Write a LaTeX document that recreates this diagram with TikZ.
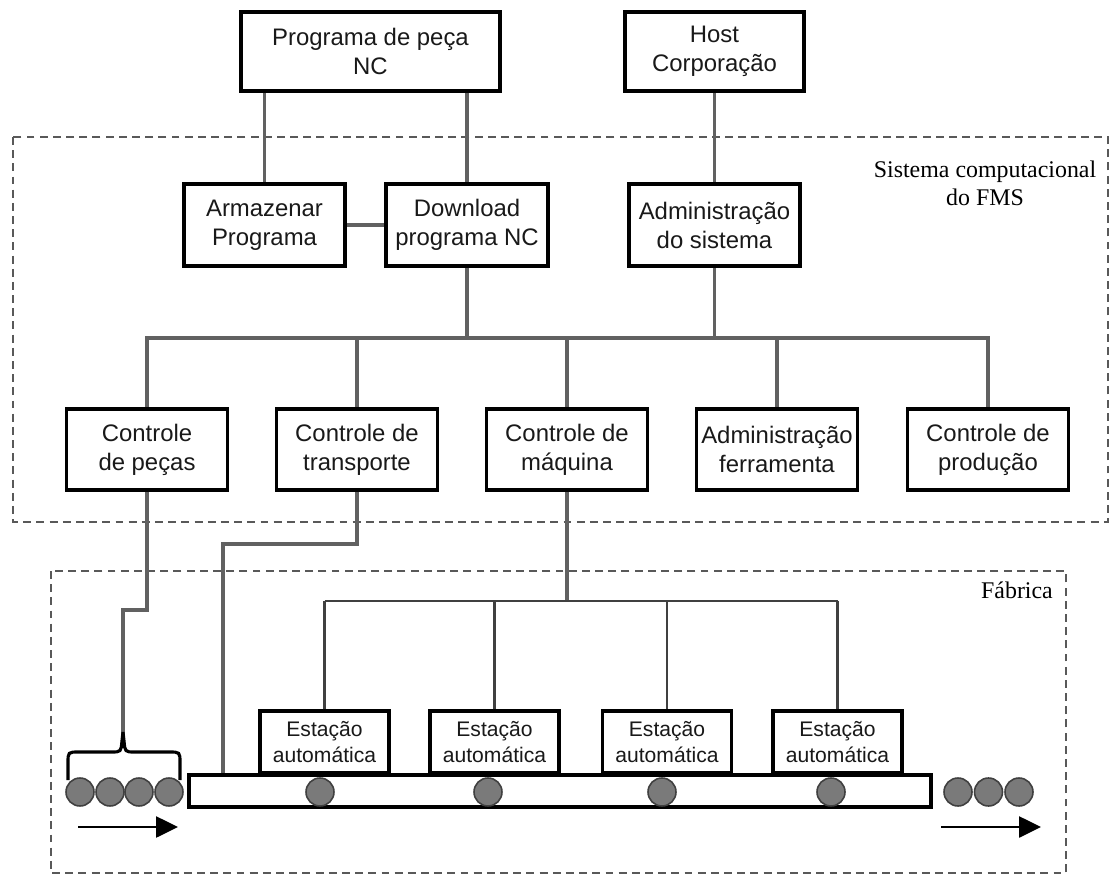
\documentclass[tikz,border=0pt]{standalone}
\usepackage{fontspec}
\setmainfont{Liberation Serif}
\setsansfont{Liberation Sans}
\usetikzlibrary{arrows.meta}

\begin{document}
\begin{tikzpicture}[x=0.02cm,y=-0.02cm,
  fmsbox/.style={draw=black,line width=2.2pt,fill=white,inner sep=0pt,align=center,
    font=\sffamily\fontsize{13.6}{16.5}\selectfont,text=black!90},
  ctrlbox/.style={fmsbox,minimum width=3.22cm,minimum height=1.62cm},
  stationbox/.style={fmsbox,line width=2pt,minimum width=2.58cm,minimum height=1.24cm,
    font=\sffamily\fontsize{12}{15}\selectfont},
  link/.style={draw=black!62,line width=1.8pt},
  floorlink/.style={draw=black!75,line width=1.3pt},
  zone/.style={draw=black!65,line width=1pt,dash pattern=on 4.5pt off 3pt},
  zonelabel/.style={font=\fontsize{13.6}{16}\selectfont,align=center,inner sep=0pt},
  part/.style={circle,draw=black!75,fill=black!52,line width=0.9pt,minimum size=0.56cm,inner sep=0pt},
  bracepen/.style={draw=black,line width=1.8pt},
  flow/.style={line width=1.5pt,-{Triangle[length=0.44cm,width=0.42cm]}}]
  \useasboundingbox (0,0) rectangle (1109,875);
  % zones
  \draw[zone] (13,137) rectangle (1108,522);
  \draw[zone] (51,571) rectangle (1066,873);
  \node[zonelabel] (lblsys) at (985,183) {Sistema computacional\\do FMS};
  \node[zonelabel] (lblfab) at (1017,590) {Fábrica};
  % top level
  \node[fmsbox,minimum width=5.18cm,minimum height=1.58cm] (prog) at (370.5,51.5) {Programa de peça\\NC};
  \node[fmsbox,minimum width=3.58cm,minimum height=1.58cm] (host) at (714.5,51.5) {Host\\Corporação};
  \node[fmsbox,minimum width=3.22cm,minimum height=1.64cm] (armaz) at (264.5,225) {Armazenar\\Programa};
  \node[fmsbox,minimum width=3.24cm,minimum height=1.64cm] (down) at (467,225) {Download\\programa NC};
  \node[fmsbox,minimum width=3.42cm,minimum height=1.64cm] (admsis) at (714.5,225) {Administração\\do sistema};
  % control level
  \node[ctrlbox] (cpecas) at (147,449.5) {Controle\\de peças};
  \node[ctrlbox] (ctrans) at (357,449.5) {Controle de\\transporte};
  \node[ctrlbox] (cmaq) at (567,449.5) {Controle de\\máquina};
  \node[ctrlbox] (cferr) at (777,449.5) {Administração\\ferramenta};
  \node[ctrlbox] (cprod) at (988,449.5) {Controle de\\produção};
  % factory floor
  \node[draw=black,line width=1.8pt,fill=white,minimum width=14.84cm,minimum height=0.64cm,inner sep=0pt] (conv) at (560,791) {};
  \node[stationbox] (st1) at (324.5,742) {Estação\\automática};
  \node[stationbox] (st2) at (494.5,742) {Estação\\automática};
  \node[stationbox] (st3) at (667,742) {Estação\\automática};
  \node[stationbox] (st4) at (837.5,742) {Estação\\automática};
  \foreach \cx [count=\i] in {320,488,662,831}
    \node[part] (cp\i) at (\cx,792) {};
  \foreach \cx [count=\i] in {80,110,139,169}
    \node[part] (lp\i) at (\cx,792) {};
  \foreach \cx [count=\i] in {958,988.5,1019}
    \node[part] (rp\i) at (\cx,792) {};
  \coordinate (busy) at (0,338);
  \coordinate (sbus) at (0,601);
  \coordinate (pjog) at (123,610);
  \coordinate (bracetip) at (123,732);
  \coordinate (tjog) at (223,544);
  \coordinate (inA) at (78,827);
  \coordinate (inB) at (178,827);
  \coordinate (outA) at (941,827);
  \coordinate (outB) at (1041,827);
  % connectors
  \draw[link] (prog.south -| armaz.north) -- (armaz.north);
  \draw[link] (prog.south -| down.north) -- (down.north);
  \draw[link] (host) -- (admsis);
  \draw[link] (armaz) -- (down);
  \draw[link] (down.south) -- (down.south |- busy);
  \draw[link] (admsis.south) -- (admsis.south |- busy);
  \draw[link] (cpecas.north) -- (cpecas.north |- busy) -- (cprod.north |- busy) -- (cprod.north);
  \draw[link] (ctrans.north) -- (ctrans.north |- busy);
  \draw[link] (cmaq.north) -- (cmaq.north |- busy);
  \draw[link] (cferr.north) -- (cferr.north |- busy);
  \draw[link] (cpecas.south) |- (pjog) -- (bracetip);
  \draw[link] (ctrans.south) |- (tjog) -- (tjog |- conv.north);
  \draw[link] (cmaq.south) -- (cmaq.south |- sbus);
  \draw[floorlink] (st1.north |- sbus) -- (st4.north |- sbus);
  \draw[floorlink] (st1.north) -- (st1.north |- sbus);
  \draw[floorlink] (st2.north) -- (st2.north |- sbus);
  \draw[floorlink] (st3.north) -- (st3.north |- sbus);
  \draw[floorlink] (st4.north) -- (st4.north |- sbus);
  % brace over the incoming parts
  \draw[bracepen] (68,780) -- (68,763) .. controls (68,752) .. (79,752) -- (111,752)
    .. controls (121,752) .. (122,741) -- (bracetip);
  \draw[bracepen] (bracetip) -- (124,741) .. controls (125,752) .. (135,752) -- (169,752)
    .. controls (180,752) .. (180,763) -- (180,780);
  \draw[flow] (inA) -- (inB);
  \draw[flow] (outA) -- (outB);
\end{tikzpicture}
\end{document}
